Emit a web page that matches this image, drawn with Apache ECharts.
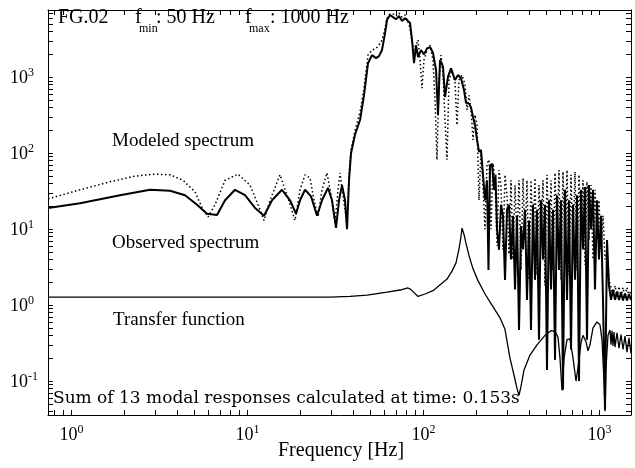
<!DOCTYPE html>
<html>
<head>
<meta charset="utf-8">
<script src="https://cdn.jsdelivr.net/npm/echarts@6/dist/echarts.min.js"></script>
<style>
html,body{margin:0;padding:0;background:#fff;}
#chart{width:635px;height:468px;}
</style>
</head>
<body>
<div id="chart"></div>
<script>
// ---------- data ----------
const obsFreq = [0.735,1.118,1.886,2.793,3.628,4.415,5.166,5.888,6.711,7.452,8.492,9.678,11.03,12.41,13.78,15.70,17.44,18.86,19.88,21.22,22.96,24.83,26.50,28.67,30.21,31.83,33.11,34.43,35.81,36.76,37.74,38.73,40.81,43.58,45.92,48.38,50.97,53.71,55.86,58.10,60.43,62.03,64.52,67.10,69.79,72.59,75.48,78.52,81.66,83.83,86.04,88.31,90.65,93.07,96.78,100.6,104.7,108.9,113.2,117.8,120.9,124.1,129.1,132.5,137.8,143.3,151.0,157.1,163.3,169.9,174.4,181.3,186.2,191.1,196.2,201.4,206.7,212.2,217.8,223.6,229.5,234.0,238.7,245.0,251.5,256.5,261.6,268.5,275.6,282.9,290.4,298.1,306.0,314.1,322.4,331.1,339.8,348.9,358.1,367.6,377.3,387.3,397.6,408.1,418.9,430.0,441.4,453.1,465.1,477.5,490.1,503.1,516.5,530.2,544.2,558.7,573.4,588.7,604.3,620.3,636.8,653.7,671.0,688.8,707.1,725.8,745.1,764.8,785.1,805.8,827.2,849.1,871.5,894.7,918.5,942.8,967.8,993.5,1019.8,1046.9,1074.7,1103.2,1132.4,1162.5,1193.3,1225.0,1257.4,1290.8,1325.1,1360.0,1396.1,1433.2,1471.2,1510];
const obsVal = [19,22,28,33,32,28,21,16,15.4,24,33,28,19,15,24,33,24,16,24,33,27,15,24,35,24,10.4,24,38,24,10,44,100,175,274,580,1530,1960,1790,1900,2285,3790,5680,6600,6200,5800,6400,5500,6000,5500,5200,3100,1530,2650,1850,2285,2000,2400,2500,2100,1250,320,1690,1380,550,1020,1310,920,1070,970,680,460,450,400,300,235,150,105,110,52,24,44,2.9,67,73,33,52,10,5.35,21,15,2.15,18,21,4,15,1.6,15,0.47,11,5.4,18,1.17,13,0.47,21,2.15,18,0.35,24,4,21,0.14,24,1.6,18,0.19,28,2.9,24,0.077,33,1.17,24,0.26,21,2.15,28,0.1,33,5.4,36,0.35,38,10,33,1.6,24,4,15,1.17,0.042,7.2,1.8,1.17,1.6,1.17,1.5,1.17,1.45,1.15,1.42,1.15,1.4,1.17];

const modFreq = [0.735,1.118,1.655,2.295,2.982,3.628,4.301,5.032,5.588,5.965,6.537,7.452,8.831,10.33,11.47,12.41,13.42,15.30,16.77,18.62,19.88,21.22,22.66,23.87,25.15,26.50,28.30,29.82,31.41,32.67,33.54,34.88,36.76,37.74,38.73,40.81,43.58,45.92,48.38,50.97,53.71,55.86,58.10,60.43,62.03,64.52,67.10,69.79,72.59,75.48,78.52,81.66,83.83,86.04,88.31,90.65,93.07,95.52,98.06,100.6,104.7,108.9,113.2,116.2,119.3,122.5,125.8,129.1,132.5,136.0,139.6,145.2,151.0,155.0,159.1,165.5,172.1,176.7,181.3,186.2,191.1,196.2,201.4,206.7,212.2,217.8,223.6,229.5,235.6,241.8,248.3,254.8,261.6,268.5,275.6,282.9,290.4,298.1,306.0,314.1,322.4,331.1,339.8,348.9,358.1,367.6,377.3,387.3,397.6,408.1,418.9,430.0,441.4,453.1,465.1,477.5,490.1,503.1,516.5,530.2,544.2,558.7,573.4,588.7,604.3,620.3,636.8,653.7,671.0,688.8,707.1,725.8,745.1,764.8,785.1,805.8,827.2,849.1,871.5,894.7,918.5,942.8,967.8,993.5,1019.8,1046.9,1074.7,1103.2,1132.4,1162.5,1193.3,1225.0,1257.4,1290.8,1325.1,1360.0,1396.1,1433.2,1471.2,1510];
const modVal = [25,33,42,50,53,52,44,31,18,14.5,21,44,53,38,21,13,24,52,28,13,33,52,47,24,14.5,33,55,28,12,33,55,28,11.4,52,110,200,350,720,1960,2285,2400,2650,3100,4400,6000,6800,6800,6400,7000,6200,6600,5350,4400,2900,2285,2650,3100,1690,720,1690,2285,2650,1690,500,82,920,1960,1070,274,82,920,1250,850,235,920,1070,800,371,580,371,150,320,235,24,110,38,10,73,82,10,73,44,6,60,38,5.4,52,28,4.7,44,4,38,7.2,44,2.9,47,7.2,44,2.15,44,8.3,47,2.5,38,7.2,44,1.8,52,5.4,44,2.9,55,7.2,60,2.15,57,5.4,60,2.5,52,6,57,2.9,52,7.2,44,3.4,42,7.2,38,4,33,7.2,24,5.4,15,4,5.4,2.15,1.7,1.3,1.8,1.3,1.75,1.3,1.7,1.3,1.7,1.3,1.6];

const tfFreq = [0.735,29.43,38.23,47.75,62.03,73.54,81.66,84.92,93.07,102.0,113.2,125.8,136.0,145.2,153.0,159.1,163.3,165.5,169.9,174.4,181.3,191.1,204.0,223.6,245.0,272.1,290.4,310.0,326.7,339.8,348.9,358.1,372.4,402.8,441.4,490.1,530.2,558.7,581.0,596.4,612.2,628.5,653.7,679.9,707.1,735.4,754.8,785.1,805.8,838.1,860.3,883.1,918.5,967.8,1006.5,1033.2,1060.7,1074.7,1088.8,1117.7,1147.4,1162.5,1177.8,1193.3,1209.0,1225.0,1257.4,1290.8,1325.1,1360.0,1396.1,1433.2,1471.2,1510];
const tfVal = [1.27,1.27,1.3,1.35,1.48,1.58,1.68,1.6,1.3,1.4,1.55,1.9,2.2,2.8,3.6,5.5,8,10.3,8.5,6.5,4.5,3,2.1,1.4,1.0,0.68,0.48,0.2,0.12,0.08,0.065,0.085,0.14,0.22,0.3,0.4,0.46,0.45,0.38,0.2,0.075,0.2,0.35,0.36,0.2,0.1,0.15,0.32,0.4,0.33,0.25,0.3,0.5,0.6,0.55,0.35,0.1,0.04,0.15,0.4,0.47,0.3,0.46,0.29,0.44,0.28,0.43,0.27,0.41,0.26,0.39,0.24,0.37,0.23];

const xLabelValues = [1, 10, 100, 1000];
const xTickValues = [0.8,0.9,1,2,3,4,5,6,7,8,9,10,20,30,40,50,60,70,80,90,100,200,300,400,500,600,700,800,900,1000];
const yLabelValues = [0.1, 1, 10, 100, 1000];
const yTickValues = [0.04,0.05,0.06,0.07,0.08,0.09,0.1,0.2,0.3,0.4,0.5,0.6,0.7,0.8,0.9,1,2,3,4,5,6,7,8,9,10,20,30,40,50,60,70,80,90,100,200,300,400,500,600,700,800,900,1000,2000,3000,4000,5000,6000,7000];

const xMin = 0.735, xMax = 1510;
const yMin = 0.0357, yMax = 7690;

// ---------- chart ----------
const FONT = 'Liberation Serif';
const pairs = (f, v) => f.map((x, i) => [x, v[i]]);
function powLabel(v) {
  const e = Math.round(Math.log10(v));
  return '{b|10}{s|' + e + '}';
}
const rich = {
  b: { fontFamily: FONT, fontSize: 18, color: '#000', lineHeight: 20, verticalAlign: 'bottom' },
  s: { fontFamily: FONT, fontSize: 12, color: '#000', lineHeight: 11, verticalAlign: 'top' }
};
const axisBase = {
  type: 'log', logBase: 10,
  axisLine: { show: true, lineStyle: { color: '#000', width: 1 } },
  splitLine: { show: false },
  minorTick: { show: false }
};
function mkX(pos, showLabel) {
  return Object.assign({}, axisBase, {
    position: pos, min: xMin, max: xMax,
    axisTick: { show: true, inside: true, length: 5, customValues: xTickValues, lineStyle: { color: '#000' } },
    axisLabel: showLabel ? { show: true, customValues: xLabelValues, formatter: powLabel, rich: rich, margin: 9 } : { show: false }
  });
}
function mkY(pos, showLabel) {
  return Object.assign({}, axisBase, {
    position: pos, min: yMin, max: yMax,
    axisTick: { show: true, inside: true, length: 5, customValues: yTickValues, lineStyle: { color: '#000' } },
    axisLabel: showLabel ? { show: true, customValues: yLabelValues, formatter: powLabel, rich: rich, margin: 38, align: 'left' } : { show: false }
  });
}

const chart = echarts.init(document.getElementById('chart'), null, { renderer: 'canvas' });
chart.setOption({
  animation: false,
  backgroundColor: '#fff',
  grid: { left: 48, right: 4, top: 10, bottom: 53, containLabel: false },
  xAxis: [mkX('bottom', true), mkX('top', false)],
  yAxis: [mkY('left', true), mkY('right', false)],
  series: [
    { name: 'Transfer function', type: 'line', xAxisIndex: 0, yAxisIndex: 0, showSymbol: false, silent: true,
      data: pairs(tfFreq, tfVal), lineStyle: { color: '#000', width: 1.3 } },
    { name: 'Modeled spectrum', type: 'line', xAxisIndex: 0, yAxisIndex: 0, showSymbol: false, silent: true,
      data: pairs(modFreq, modVal), lineStyle: { color: '#000', width: 1.5, type: [1.5, 2.5] } },
    { name: 'Observed spectrum', type: 'line', xAxisIndex: 0, yAxisIndex: 0, showSymbol: false, silent: true,
      data: pairs(obsFreq, obsVal), lineStyle: { color: '#000', width: 2 } }
  ],
  graphic: [
    { type: 'text', x: 58, y: 18, style: { text: 'FG.02', font: '20px "Liberation Serif"', fill: '#000', verticalAlign: 'middle' } },
    { type: 'text', x: 135, y: 18, style: { text: 'f', font: '20px "Liberation Serif"', fill: '#000', verticalAlign: 'middle' } },
    { type: 'text', x: 139, y: 29, style: { text: 'min', font: '12px "Liberation Serif"', fill: '#000', verticalAlign: 'middle' } },
    { type: 'text', x: 156, y: 18, style: { text: ': 50 Hz', font: '20px "Liberation Serif"', fill: '#000', verticalAlign: 'middle' } },
    { type: 'text', x: 245, y: 18, style: { text: 'f', font: '20px "Liberation Serif"', fill: '#000', verticalAlign: 'middle' } },
    { type: 'text', x: 249, y: 29, style: { text: 'max', font: '12px "Liberation Serif"', fill: '#000', verticalAlign: 'middle' } },
    { type: 'text', x: 270, y: 18, style: { text: ': 1000 Hz', font: '20px "Liberation Serif"', fill: '#000', verticalAlign: 'middle' } },
    { type: 'text', x: 112, y: 141.5, style: { text: 'Modeled spectrum', font: '19px "Liberation Serif"', fill: '#000', verticalAlign: 'middle' } },
    { type: 'text', x: 112, y: 243.5, style: { text: 'Observed spectrum', font: '19px "Liberation Serif"', fill: '#000', verticalAlign: 'middle' } },
    { type: 'text', x: 113, y: 320.5, style: { text: 'Transfer function', font: '19px "Liberation Serif"', fill: '#000', verticalAlign: 'middle' } },
    { type: 'text', x: 53, y: 399, style: { text: 'Sum of 13 modal responses calculated at time: 0.153s', font: '17px "DejaVu Serif"', fill: '#000', verticalAlign: 'middle' } },
    { type: 'text', x: 278, y: 451, style: { text: 'Frequency [Hz]', font: '20px "Liberation Serif"', fill: '#000', verticalAlign: 'middle' } }
  ]
});
</script>
</body>
</html>
